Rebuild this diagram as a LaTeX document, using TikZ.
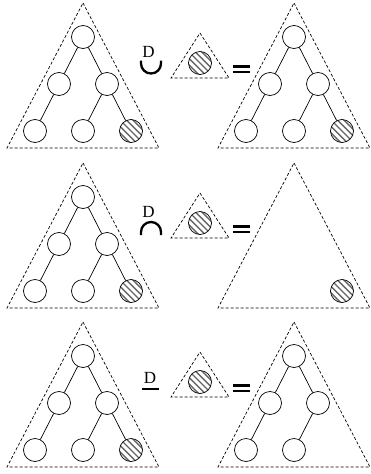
\documentclass[tikz,border=0pt]{standalone}
\usepackage{fontspec}
\setmainfont{Liberation Serif}
\tikzset{
  tri/.style={draw, line width=0.7pt, dash pattern=on 3pt off 2pt},
  circ/.style={circle, draw, minimum size=23pt, inner sep=0pt, line width=0.7pt},
  hatch/.style={circ, path picture={
      \foreach \k in {-3,...,3}{
        \draw[black!60, line width=1.4pt]
          ([shift={(\k*6.4-16,-16)}]path picture bounding box.center) --
          ([shift={(\k*6.4+16,16)}]path picture bounding box.center);
      }}},
  edge/.style={line width=0.7pt},
  opline/.style={line width=2.3pt},
  eqline/.style={line width=2.4pt},
  dlabel/.style={font=\fontsize{17}{17}\selectfont, inner sep=0pt}
}
\begin{document}
\begin{tikzpicture}[x=1pt,y=-1pt]
\useasboundingbox (0,0) rectangle (371,474);
\foreach \r/\d in {1/0,2/160,3/319}{
  % left tree
  \draw[tri] (83,{3+\d}) -- (159,{148+\d}) -- (7,{148+\d}) -- cycle;
  \node[circ] (L\r a) at (83,{37+\d}) {};
  \node[circ] (L\r b) at (59,{84+\d}) {};
  \node[circ] (L\r c) at (107,{84+\d}) {};
  \node[circ] (L\r d) at (35,{131+\d}) {};
  \node[circ] (L\r e) at (83,{131+\d}) {};
  \node[hatch] (L\r f) at (131,{131+\d}) {};
  \draw[edge] (L\r a) -- (L\r b);
  \draw[edge] (L\r a) -- (L\r c);
  \draw[edge] (L\r b) -- (L\r d);
  \draw[edge] (L\r c) -- (L\r e);
  \draw[edge] (L\r c) -- (L\r f);
  % small triangle
  \draw[tri] (200,{33+\d}) -- (229,{78+\d}) -- (171,{78+\d}) -- cycle;
  \node[hatch] (S\r) at (200,{63+\d}) {};
  % equals sign
  \coordinate (E\r a) at (233,{66.5+\d});
  \coordinate (E\r b) at (250,{66.5+\d});
  \coordinate (E\r c) at (233,{71.8+\d});
  \coordinate (E\r d) at (250,{71.8+\d});
  \draw[eqline] (E\r a) -- (E\r b);
  \draw[eqline] (E\r c) -- (E\r d);
  % right triangle
  \draw[tri] (294,{3+\d}) -- (370,{148+\d}) -- (218,{148+\d}) -- cycle;
}
% operator row 1: cup
\node[dlabel] (D1) at (148.5,52) {D};
\coordinate (C1s) at (141,60.5);
\coordinate (C1e) at (161,60.5);
\draw[opline] (C1s) -- (141,63.5) arc[start angle=180,end angle=0,radius=10] -- (C1e);
% operator row 2: cap
\node[dlabel] (D2) at (148.5,212) {D};
\coordinate (C2s) at (141,235);
\coordinate (C2e) at (161,235);
\draw[opline] (C2s) -- (141,232) arc[start angle=180,end angle=360,radius=10] -- (C2e);
% operator row 3: underline
\node[dlabel] (D3) at (150,378) {D};
\coordinate (U3s) at (142,389);
\coordinate (U3e) at (159,389);
\draw[line width=2.6pt] (U3s) -- (U3e);
% right tree row 1
\node[circ] (R1a) at (294,37) {};
\node[circ] (R1b) at (270,84) {};
\node[circ] (R1c) at (318,84) {};
\node[circ] (R1d) at (246,131) {};
\node[circ] (R1e) at (294,131) {};
\node[hatch] (R1f) at (342,131) {};
\draw[edge] (R1a) -- (R1b);
\draw[edge] (R1a) -- (R1c);
\draw[edge] (R1b) -- (R1d);
\draw[edge] (R1c) -- (R1e);
\draw[edge] (R1c) -- (R1f);
% right row 2
\node[hatch] (R2f) at (342,291) {};
% right tree row 3
\node[circ] (R3a) at (294,356) {};
\node[circ] (R3b) at (270,403) {};
\node[circ] (R3c) at (318,403) {};
\node[circ] (R3d) at (246,450) {};
\node[circ] (R3e) at (294,450) {};
\draw[edge] (R3a) -- (R3b);
\draw[edge] (R3a) -- (R3c);
\draw[edge] (R3b) -- (R3d);
\draw[edge] (R3c) -- (R3e);
\end{tikzpicture}
\end{document}
